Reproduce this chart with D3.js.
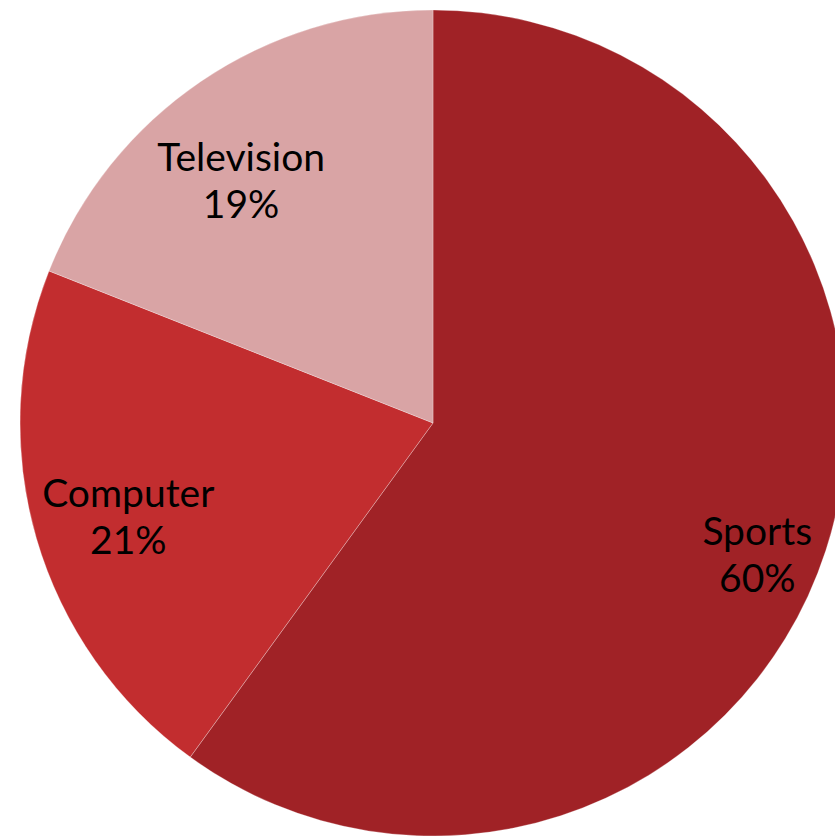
<!DOCTYPE html>
<html>
<head>
<meta charset="utf-8">
<script src="https://cdn.jsdelivr.net/npm/d3@7"></script>
<style>
  html, body { margin: 0; padding: 0; background: #ffffff; }
  svg { display: block; }
</style>
</head>
<body>
<svg id="chart" width="835" height="836"></svg>
<script>
// Share of time by activity
const categories = ["Sports", "Computer", "Television"];
const shares = [60, 21, 19];
const colors = ["#A02226", "#C22D2F", "#D9A4A5"];

// label placement: radius as a fraction of the pie radius, plus an angular nudge (degrees)
const labelRadius = [0.848, 0.772, 0.748];
const labelNudge = [4.2, -0.9, -4.2];

const width = 835, height = 836;
const cx = 433, cy = 423, radius = 413;

const svg = d3.select("#chart");
const g = svg.append("g").attr("transform", `translate(${cx},${cy})`);

const data = categories.map((c, i) => ({ name: c, value: shares[i], color: colors[i], i }));

const pie = d3.pie().value(d => d.value).sort(null);
const arc = d3.arc().innerRadius(0).outerRadius(radius);

const arcs = pie(data);

g.selectAll("path.slice")
  .data(arcs)
  .enter().append("path")
  .attr("class", "slice")
  .attr("d", arc)
  .attr("fill", d => d.data.color)
  .attr("stroke", "rgba(255,255,255,0.35)")
  .attr("stroke-width", 0.8);

function labelPos(d) {
  const mid = (d.startAngle + d.endAngle) / 2 + labelNudge[d.data.i] * Math.PI / 180;
  const r = radius * labelRadius[d.data.i];
  return [Math.sin(mid) * r, -Math.cos(mid) * r];
}

const labels = g.selectAll("text.label")
  .data(arcs)
  .enter().append("text")
  .attr("class", "label")
  .attr("transform", d => `translate(${labelPos(d)})`)
  .attr("text-anchor", "middle")
  .attr("font-family", "Lato, 'Open Sans', sans-serif")
  .attr("font-size", 39)
  .attr("fill", "#000");

labels.append("tspan")
  .attr("x", 0)
  .attr("dy", -10)
  .text(d => d.data.name);

labels.append("tspan")
  .attr("x", 0)
  .attr("dy", 47)
  .text(d => d3.format(".0%")(d.data.value / 100));
</script>
</body>
</html>
